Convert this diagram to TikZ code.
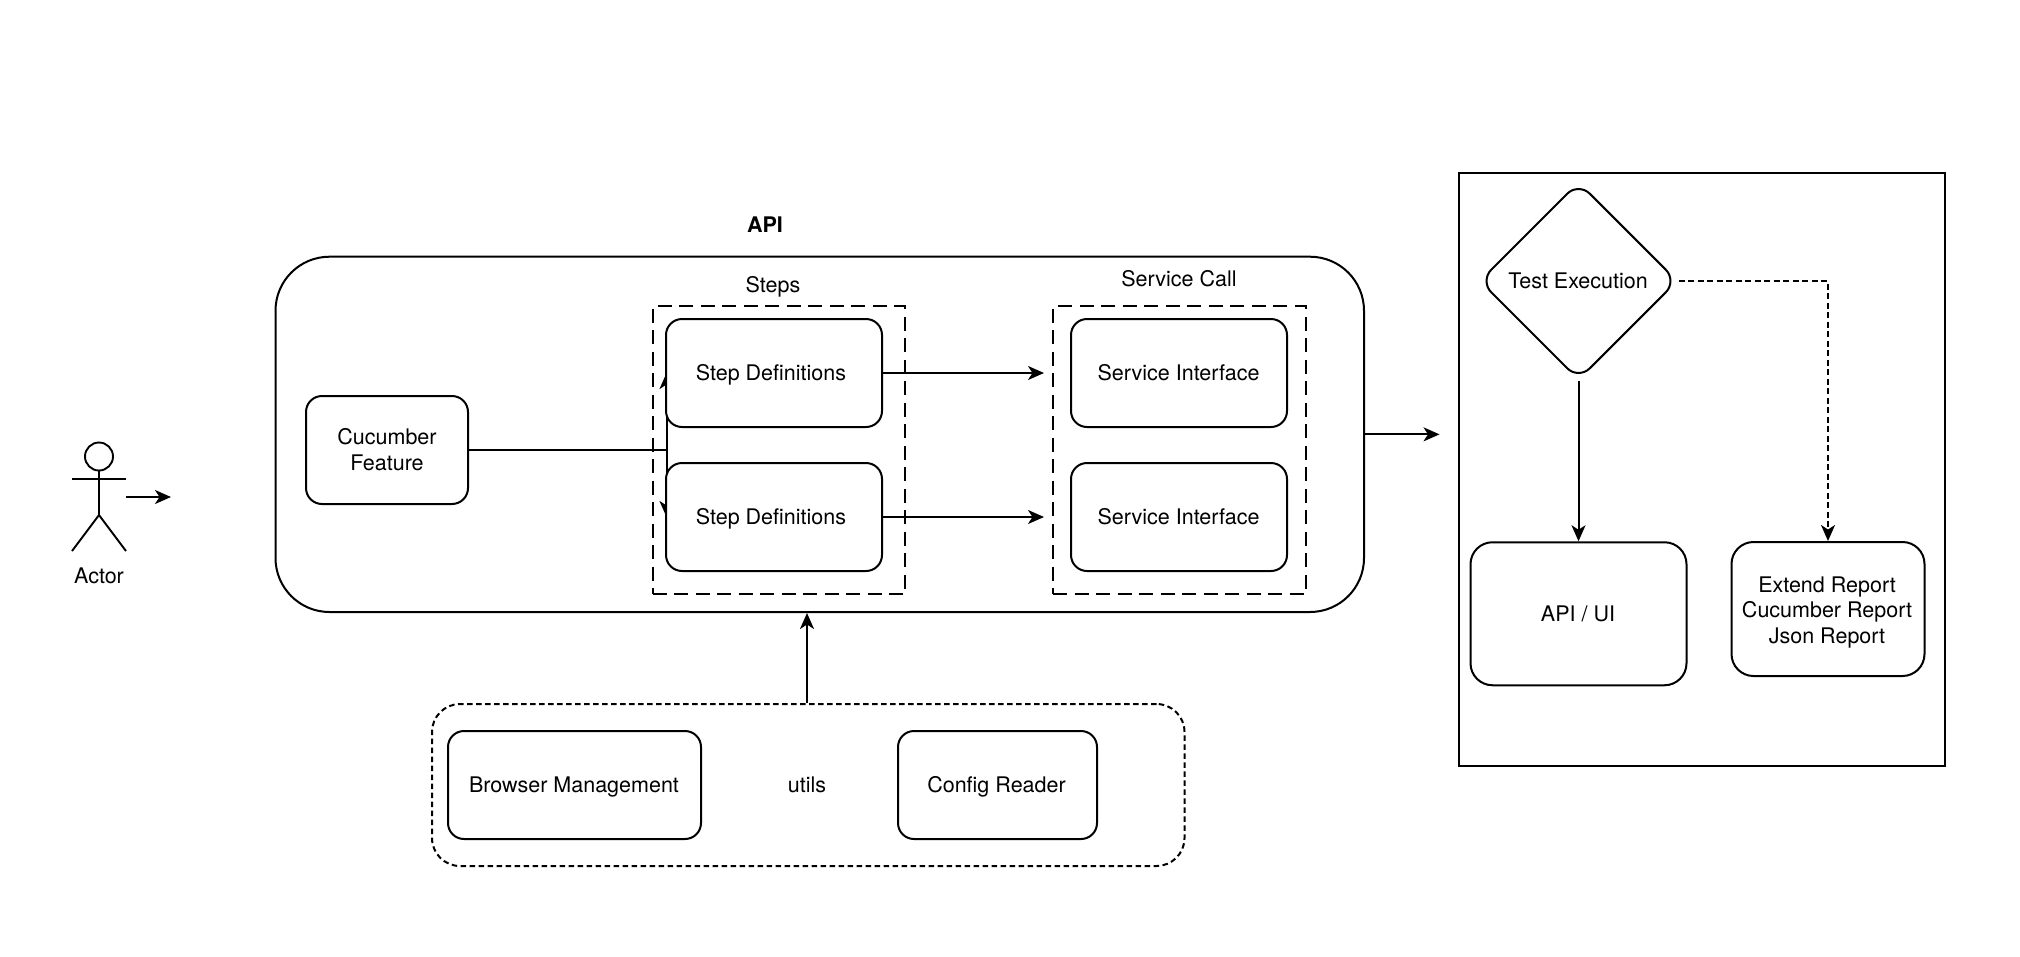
\documentclass[tikz,border=0pt]{standalone}
\usepackage{fontspec}
\setmainfont{TeX Gyre Heros}
\usetikzlibrary{arrows.meta,shapes.geometric}
\pgfdeclarelayer{behind}
\pgfsetlayers{behind,main}
\tikzset{
  base/.style={draw=black,line width=2pt,inner sep=0pt,align=center},
  rbox/.style={base,fill=white,rounded corners=16pt},
  bigbox/.style={base,rounded corners=54pt},
  longdash/.style={base,dash pattern=on 14pt off 7.5pt},
  shortdash/.style={base,rounded corners=28pt,dash pattern=on 5.5pt off 3.5pt},
  plain/.style={inner sep=0pt,align=center,font=\fontsize{21.5}{25.5}\selectfont},
  link/.style={line width=2pt,-{Stealth[length=16pt,width=14pt,inset=4.5pt]}},
  dlink/.style={link,dash pattern=on 6pt off 3.5pt},
  figure/.style={line width=1.9pt},
}
\begin{document}
\begin{tikzpicture}[x=1pt,y=-1pt]
\useasboundingbox (0,0) rectangle (2020,956);
% containers
\node[bigbox,minimum width=1088.5pt,minimum height=355.3pt] (api) at (819.75,434.35) {};
\node[longdash,minimum width=252.5pt,minimum height=288pt] (steps) at (778.75,450) {};
\node[longdash,minimum width=252.5pt,minimum height=288pt] (svc) at (1179.25,450) {};
\node[shortdash,minimum width=752.5pt,minimum height=162pt] (utils) at (808.25,785) {};
\node[base,minimum width=486pt,minimum height=593pt] (outer) at (1701.5,469.5) {};
% boxes
\node[rbox,minimum width=162pt,minimum height=108pt] (cuc) at (387,450) {};
\node[plain] at (387,449.7) {Cucumber\\Feature};
\node[rbox,minimum width=216pt,minimum height=108pt] (s1) at (774,373) {};
\node[plain] at (771,374.5) {Step Definitions};
\node[rbox,minimum width=216pt,minimum height=108pt] (s2) at (774,517) {};
\node[plain] at (771,518.5) {Step Definitions};
\node[rbox,minimum width=216pt,minimum height=108pt] (i1) at (1179,373) {};
\node[plain] at (1178.5,373) {Service Interface};
\node[rbox,minimum width=216pt,minimum height=108pt] (i2) at (1179,517) {};
\node[plain] at (1178.5,517) {Service Interface};
\node[rbox,minimum width=253pt,minimum height=108pt] (browser) at (574.5,785) {};
\node[plain] at (574,786.5) {Browser Management};
\node[rbox,minimum width=199pt,minimum height=108pt] (config) at (997.5,785) {};
\node[plain] at (996.5,786.5) {Config Reader};
\node[plain] (utilslabel) at (807,785) {utils};
\node[base,diamond,fill=white,rounded corners=16pt,aspect=1,minimum width=198pt,minimum height=198pt] (exec) at (1578.5,281) {};
\node[plain] at (1578,281) {Test Execution};
\node[rbox,rounded corners=22pt,minimum width=216pt,minimum height=143pt] (ui) at (1578.5,613.75) {};
\node[plain] at (1578,614) {API / UI};
\node[rbox,rounded corners=22pt,minimum width=193pt,minimum height=134pt] (report) at (1828,609) {};
\node[plain] at (1827,612) {Extend Report\\Cucumber Report\\Json Report};
% labels
\node[plain,font=\fontsize{21.5}{25.5}\selectfont\bfseries] (apilabel) at (765,225) {API};
\node[plain] (stepslabel) at (773,286.5) {Steps};
\node[plain] (svclabel) at (1179,279) {Service Call};
% actor
\node[draw=black,line width=1.9pt,ellipse,inner sep=0pt,minimum width=28pt,minimum height=28pt] (head) at (99,456.5) {};
\coordinate (armL) at (72,479);
\coordinate (armR) at (126,479);
\coordinate (hip) at (99,515);
\coordinate (footL) at (72,551);
\coordinate (footR) at (126,551);
\draw[figure] (head.south) -- (hip);
\draw[figure] (armL) -- (armR);
\draw[figure] (footL) -- (hip) -- (footR);
\node[plain] (actor) at (99,576) {Actor};
% free connector ends
\coordinate (actorOut) at (126,497);
\coordinate (actorEnd) at (171,497);
\coordinate (s1End) at (1044,373);
\coordinate (s2End) at (1044,517);
\coordinate (apiEnd) at (1439.5,434.35);
\begin{pgfonlayer}{behind}
\draw[link] (cuc.east) -| ([xshift=1.5pt]s1.west);
\draw[link] (cuc.east) -| ([xshift=1.5pt]s2.west);
\end{pgfonlayer}
\draw[link] (actorOut) -- (actorEnd);
\draw[link] (s1.east) -- (s1End);
\draw[link] (s2.east) -- (s2End);
\draw[link] (api.east) -- (apiEnd);
\draw[link] (utils.north -| utilslabel) -- (utilslabel |- api.south);
\draw[link] (exec.south) -- (ui.north);
\draw[dlink] (exec.east) -| (report.north);
\end{tikzpicture}
\end{document}
